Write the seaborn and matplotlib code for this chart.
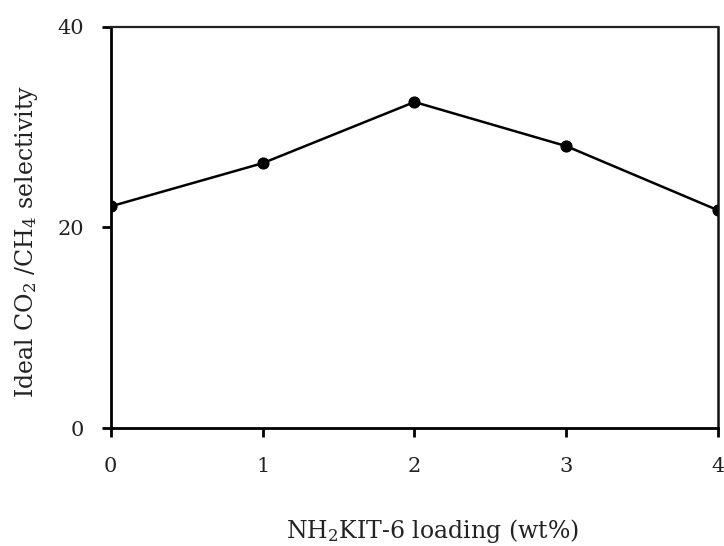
import seaborn as sns
import matplotlib.pyplot as plt
import pandas as pd

# NH2KIT-6 loading vs ideal CO2/CH4 selectivity
loading = [0, 1, 2, 3, 4]
selectivity = [22.1, 26.4, 32.5, 28.1, 21.7]

df = pd.DataFrame({'loading': loading, 'selectivity': selectivity})

sns.set_style('ticks')
plt.rcParams['font.family'] = ['DejaVu Serif']
plt.rcParams['mathtext.fontset'] = 'dejavuserif'

fig = plt.figure(figsize=(7.24, 5.46), dpi=100)
ax = fig.add_axes([0.153, 0.216, 0.839, 0.735])

sns.lineplot(x='loading', y='selectivity', data=df, ax=ax, color='black',
             linewidth=1.8, marker='o', markersize=8, markeredgecolor='black')

ax.set_xlim(0, 4)
ax.set_ylim(0, 40)
ax.set_xticks([0, 1, 2, 3, 4])
ax.set_yticks([0, 20, 40])
ax.tick_params(axis='both', labelsize=15, direction='out', length=6.5, width=2,
               color='black', labelcolor='#222222')
ax.tick_params(axis='x', pad=14)
ax.tick_params(axis='y', pad=13)

for side in ['left', 'bottom']:
    ax.spines[side].set_linewidth(2)
    ax.spines[side].set_color('black')
for side in ['top', 'right']:
    ax.spines[side].set_visible(True)
ax.spines['top'].set_linewidth(1.6)
ax.spines['top'].set_color('#222222')
ax.spines['right'].set_linewidth(1.8)
ax.spines['right'].set_color('#111111')

ax.set_xlabel(r'NH$_2$KIT-6 loading (wt%)', fontsize=17, color='#222222')
ax.set_ylabel(r'Ideal CO$_2$ /CH$_4$ selectivity', fontsize=17, color='#222222')
ax.xaxis.set_label_coords(0.530, -0.222)
ax.yaxis.set_label_coords(-0.116, 0.466)

fig.savefig('out.png', dpi=100)
